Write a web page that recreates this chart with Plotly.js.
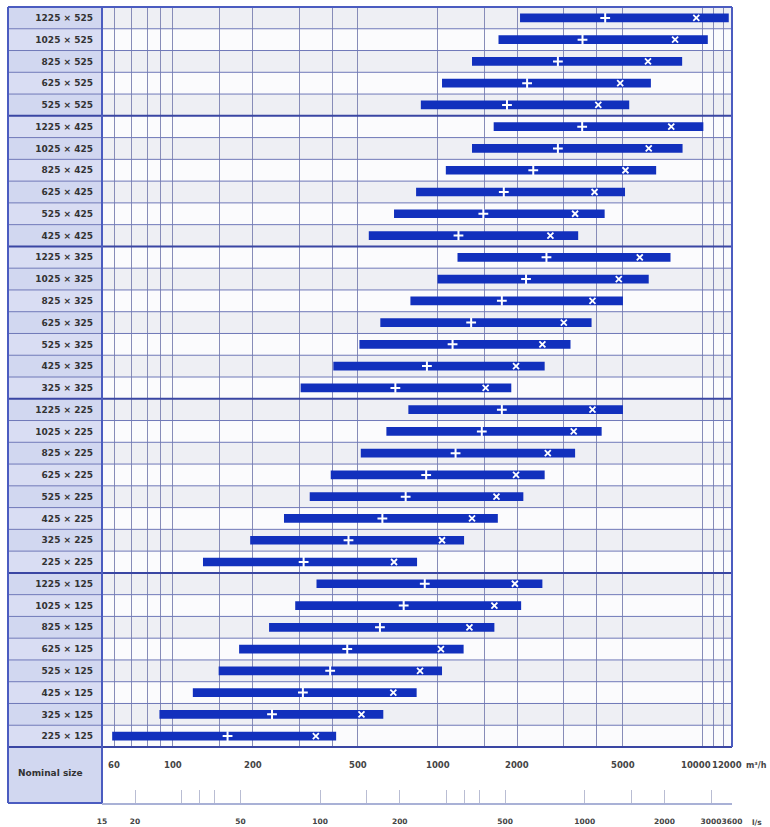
<!DOCTYPE html>
<html>
<head>
<meta charset="utf-8">
<script src="https://cdn.plot.ly/plotly-3.0.1.min.js"></script>
<style>
  html, body { margin: 0; padding: 0; background: #ffffff; }
  #chart { width: 770px; height: 827px; }
</style>
</head>
<body>
<div id="chart"></div>
<script>
// Nominal sizes (width × height), listed top to bottom
const sizes = [
  "1225 × 525", "1025 × 525", "825 × 525", "625 × 525", "525 × 525",
  "1225 × 425", "1025 × 425", "825 × 425", "625 × 425", "525 × 425", "425 × 425",
  "1225 × 325", "1025 × 325", "825 × 325", "625 × 325", "525 × 325", "425 × 325", "325 × 325",
  "1225 × 225", "1025 × 225", "825 × 225", "625 × 225", "525 × 225", "425 × 225", "325 × 225", "225 × 225",
  "1225 × 125", "1025 × 125", "825 × 125", "625 × 125", "525 × 125", "425 × 125", "325 × 125", "225 × 125"
];

// Air volume range per size, m³/h
const flowMin = [
  2050, 1700, 1350, 1040, 865,
  1630, 1350, 1075, 830, 685, 550,
  1190, 1000, 790, 608, 507, 404, 304,
  776, 641, 513, 395, 329, 263, 196, 130,
  349, 290, 231, 178, 149, 119, 89, 59
];
const flowPlus = [
  4300, 3530, 2850, 2180, 1830,
  3520, 2850, 2300, 1780, 1490, 1200,
  2580, 2160, 1750, 1340, 1140, 912, 693,
  1750, 1470, 1170, 906, 758, 619, 461, 312,
  895, 745, 606, 456, 393, 310, 237, 161
];
const flowCross = [
  9500, 7900, 6240, 4900, 4050,
  7640, 6280, 5130, 3920, 3310, 2670,
  5810, 4840, 3850, 3000, 2490, 1980, 1520,
  3850, 3270, 2610, 1980, 1670, 1350, 1040, 685,
  1960, 1640, 1320, 1030, 859, 681, 516, 347
];
const flowMax = [
  12600, 10500, 8400, 6400, 5300,
  10100, 8430, 6700, 5110, 4280, 3400,
  7590, 6280, 5020, 3820, 3180, 2540, 1900,
  5020, 4170, 3310, 2540, 2110, 1690, 1260, 837,
  2490, 2070, 1640, 1255, 1040, 834, 624, 414
];

// Index of the first row of each height group (after the first)
const groupStarts = [5, 11, 18, 26];

// m³/h scale
const m3hRange = [54, 12960];
const m3hGrid = [60, 70, 80, 90, 100, 150, 200, 300, 400, 500, 1000, 1500, 2000, 3000, 4000, 5000, 10000, 11000, 12000];
const m3hLabels = [60, 100, 200, 500, 1000, 2000, 5000, 10000, 12000];

// l/s scale
const lsRange = [15, 3600];
const lsTicks = [15, 20, 30, 35, 40, 50, 100, 150, 200, 300, 350, 400, 500, 1000, 1500, 2000, 3000, 3600];
const lsLabels = [15, 20, 50, 100, 200, 500, 1000, 2000, 3000, 3600];

// ---- styling ----
const FONT = "DejaVu Sans, Liberation Sans, Arial, sans-serif";
const BAR = "#1230bd";
const ROWLINE = "#6f78b8";
const GROUPLINE = "#3a46a3";
const BORDER = "#4b5cc0";
const GRID = "#878cb8";
const LABELBG = ["#d1d7f0", "#d9ddf3"];
const ROWBG = ["#eeeff4", "#fbfbfd"];

const bandTop = 56 / 796;          // paper fraction of the "Nominal size" band
const labelX0 = (8 - 102) / 630;   // left edge of the size-label column

const traces = [
  {
    type: "bar",
    orientation: "h",
    y: sizes,
    base: flowMin,
    x: flowMin.map((v, i) => flowMax[i] - v),
    width: 0.4,
    marker: { color: BAR, line: { width: 0 } },
    hoverinfo: "skip",
    xaxis: "x", yaxis: "y"
  },
  {
    type: "scatter",
    mode: "markers",
    y: sizes,
    x: flowPlus,
    marker: { symbol: "cross-thin", size: 7, line: { color: "#ffffff", width: 2 } },
    hoverinfo: "skip",
    xaxis: "x", yaxis: "y"
  },
  {
    type: "scatter",
    mode: "markers",
    y: sizes,
    x: flowCross,
    marker: { symbol: "x-thin", size: 6, line: { color: "#ffffff", width: 1.8 } },
    hoverinfo: "skip",
    xaxis: "x", yaxis: "y"
  },
  {
    // keeps the l/s scale subplot alive
    type: "scatter",
    mode: "none",
    x: lsRange,
    y: [0.5, 0.5],
    hoverinfo: "skip",
    xaxis: "x2", yaxis: "y2"
  }
];

const shapes = [];
// row backgrounds
sizes.forEach((s, i) => {
  shapes.push({
    type: "rect", layer: "below", xref: "paper", yref: "y",
    x0: 0, x1: 1, y0: i - 0.5, y1: i + 0.5,
    fillcolor: ROWBG[i % 2], line: { width: 0 }
  });
  shapes.push({
    type: "rect", layer: "below", xref: "paper", yref: "y",
    x0: labelX0, x1: 0, y0: i - 0.5, y1: i + 0.5,
    fillcolor: LABELBG[i % 2], line: { width: 0 }
  });
});
// label cell of the scale band
shapes.push({
  type: "rect", layer: "below", xref: "paper", yref: "paper",
  x0: labelX0, x1: 0, y0: 0, y1: bandTop,
  fillcolor: LABELBG[0], line: { width: 0 }
});
// row separators
for (let i = 1; i < sizes.length; i++) {
  const grp = groupStarts.includes(i);
  shapes.push({
    type: "line", layer: "above", xref: "paper", yref: "y",
    x0: labelX0, x1: 1, y0: i - 0.5, y1: i - 0.5,
    line: { color: grp ? GROUPLINE : ROWLINE, width: grp ? 2 : 1 }
  });
}
// frame
const frame = [
  [labelX0, 1, 1, 1],             // top
  [labelX0, bandTop, 1, bandTop], // top of scale band
  [1, bandTop, 1, 1],             // right
  [0, 0, 0, 1],                   // left of plot
  [labelX0, 0, labelX0, 1],       // left of label column
  [labelX0, 0, 0, 0]              // bottom of label column
];
frame.forEach(([x0, y0, x1, y1], k) => {
  shapes.push({
    type: "line", layer: "above", xref: "paper", yref: "paper",
    x0, y0, x1, y1,
    line: { color: k === 1 ? GROUPLINE : BORDER, width: 2 }
  });
});

const annotations = [];
const labelY = (803 - 765) / 796;
m3hLabels.forEach(v => {
  let shift = 0;
  if (v === 10000) shift = -6;
  if (v === 12000) shift = 4;
  annotations.push({
    xref: "x", yref: "paper", x: Math.log10(v), y: labelY,
    text: String(v), showarrow: false, xanchor: "center", yanchor: "middle",
    xshift: shift,
    font: { family: FONT, size: 8.5, color: "#444", weight: "bold" }
  });
});
annotations.push({
  xref: "paper", yref: "paper", x: (744 - 102) / 630, y: labelY,
  text: "m³/h", showarrow: false, xanchor: "left", yanchor: "middle",
  font: { family: FONT, size: 8, color: "#444", weight: "bold" }
});
annotations.push({
  xref: "paper", yref: "paper", x: (750 - 102) / 630, y: (803 - 822) / 796,
  text: "l/s", showarrow: false, xanchor: "left", yanchor: "middle",
  font: { family: FONT, size: 7.5, color: "#444", weight: "bold" }
});
annotations.push({
  xref: "paper", yref: "paper", x: (50 - 102) / 630, y: (803 - 773) / 796,
  text: "Nominal size", showarrow: false, xanchor: "center", yanchor: "middle",
  font: { family: FONT, size: 9, color: "#333", weight: "bold" }
});

const layout = {
  width: 770,
  height: 827,
  margin: { l: 102, r: 38, t: 7, b: 24 },
  paper_bgcolor: "#ffffff",
  plot_bgcolor: "rgba(0,0,0,0)",
  showlegend: false,
  barmode: "overlay",
  xaxis: {
    type: "log",
    range: m3hRange.map(Math.log10),
    anchor: "y",
    tickmode: "array",
    tickvals: m3hGrid,
    showticklabels: false,
    ticks: "",
    showgrid: true,
    gridcolor: GRID,
    gridwidth: 1,
    zeroline: false,
    showline: false,
    fixedrange: true
  },
  yaxis: {
    type: "category",
    categoryorder: "array",
    categoryarray: sizes,
    range: [sizes.length - 0.5, -0.5],
    domain: [bandTop, 1],
    anchor: "x",
    showgrid: false,
    zeroline: false,
    showline: false,
    ticks: "",
    ticklabelstandoff: 8,
    tickfont: { family: FONT, size: 9, color: "#333", weight: "bold" },
    fixedrange: true
  },
  xaxis2: {
    type: "log",
    range: lsRange.map(Math.log10),
    anchor: "y2",
    tickmode: "array",
    tickvals: lsTicks,
    ticktext: lsTicks.map(v => lsLabels.includes(v) ? String(v) : ""),
    ticks: "inside",
    ticklen: 13,
    tickwidth: 1,
    tickcolor: "#b9bdd3",
    showline: true,
    linecolor: "#a9b1d6",
    linewidth: 2,
    showgrid: false,
    zeroline: false,
    ticklabelstandoff: 10,
    tickangle: 0,
    tickfont: { family: FONT, size: 7.5, color: "#444", weight: "bold" },
    fixedrange: true
  },
  yaxis2: {
    domain: [0, bandTop],
    range: [0, 1],
    anchor: "x2",
    visible: false,
    fixedrange: true
  },
  shapes: shapes,
  annotations: annotations
};

Plotly.newPlot("chart", traces, layout, { displayModeBar: false, staticPlot: true });
</script>
</body>
</html>
